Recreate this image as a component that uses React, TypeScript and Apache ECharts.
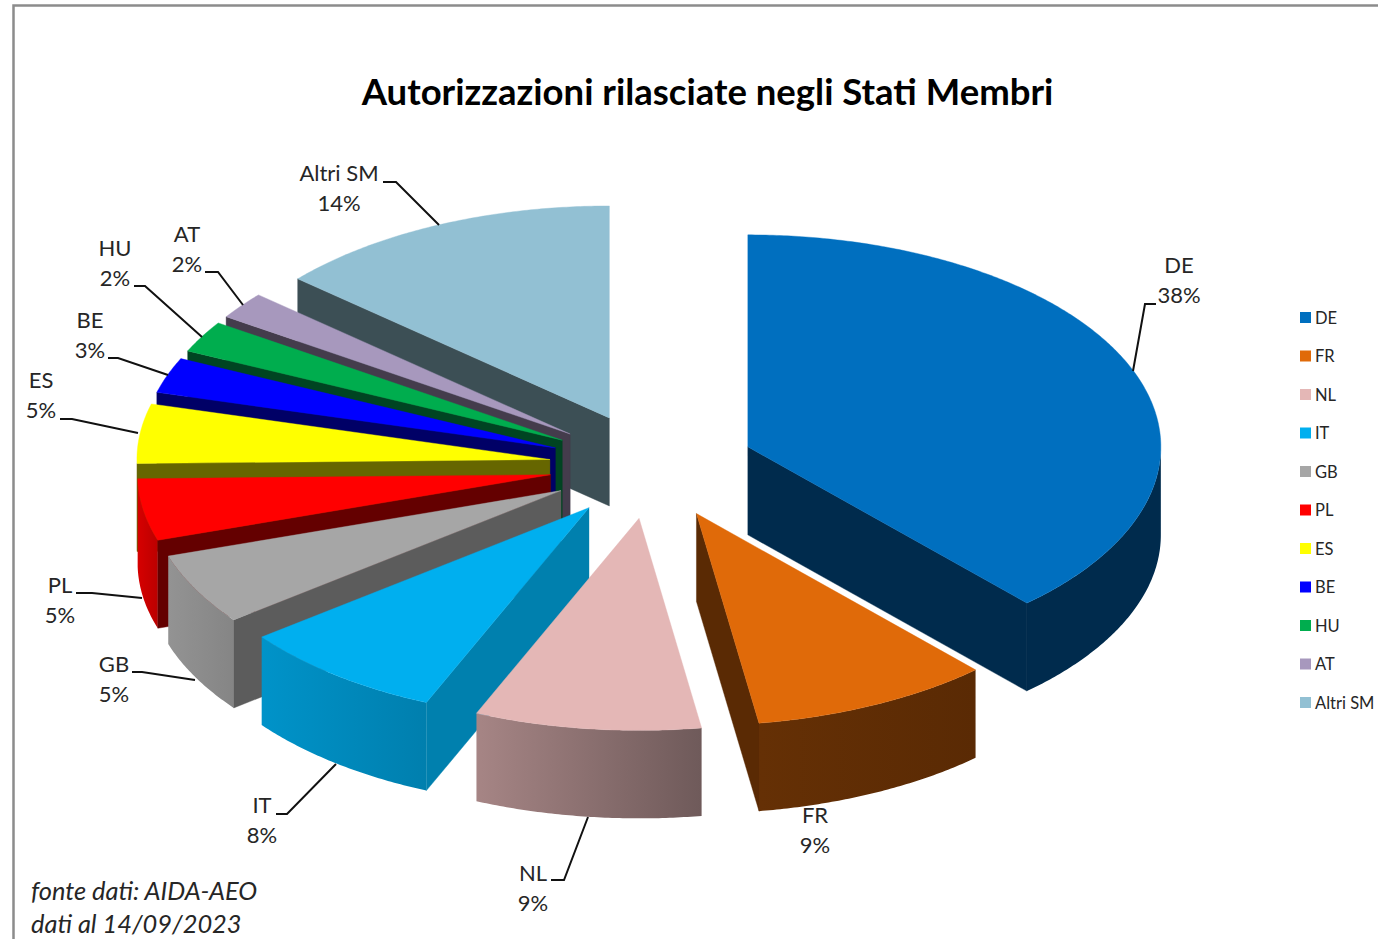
import React, { useEffect, useRef } from "react";
import * as echarts from "echarts";

const categories = ["DE", "FR", "NL", "IT", "GB", "PL", "ES", "BE", "HU", "AT", "Altri SM"];
const shares = [38.19, 9.39, 8.86, 8.12, 5.44, 4.7, 4.52, 2.7, 2.41, 2.06, 13.61];

const topColors = ["#006fbf", "#e06a09", "#e4b7b6", "#00afef", "#a6a6a6", "#ff0000", "#ffff00", "#0000ff", "#00ad4e", "#a798bd", "#92c0d3"];
const wallColors = ["#002b4d", "#5a2a04", "#8a6f6f", "#0080ae", "#5c5c5c", "#640000", "#666600", "#000066", "#004422", "#443c4c", "#3c4f55"];
const rimLeftColors = ["#002b4d", "#653005", "#a68585", "#0093c9", "#939393", "#d60000", "#666600", "#000066", "#004422", "#443c4c", "#3c4f55"];
const rimRightColors = ["#002b4d", "#5a2a04", "#6f5a5a", "#007fae", "#858585", "#bb0000", "#666600", "#000066", "#004422", "#443c4c", "#3c4f55"];

// Pie projection layout.
const CX = 652;
const CY = 466;
const RX = 413;
const RY = 212;
const DEPTH = 88;
const EXPLODE = 0.249;

// Hand-placed label centres and leader lines, in category order.
const labelCentres = [[1179, 264], [815, 814], [533, 872], [262, 804], [114, 663], [60, 584], [41, 379], [90, 319], [115, 247], [187, 233], [339, 172]];
const labelLineGap = 30;
const leaders: number[][][] = [
  [[1156, 304], [1145, 304], [1133, 371]],
  [],
  [[551, 880], [564, 880], [588, 817]],
  [[276, 814], [287, 814], [336, 764]],
  [[132, 672], [142, 672], [195, 680]],
  [[76, 593], [92, 593], [142, 598]],
  [[60, 419], [72, 419], [138, 433]],
  [[108, 358], [118, 358], [168, 375]],
  [[134, 286], [145, 286], [202, 337]],
  [[205, 272], [218, 272], [243, 305]],
  [[383, 182], [396, 182], [439, 225]],
];

const titleText = "Autorizzazioni rilasciate negli Stati Membri";
const noteLines = ["fonte dati: AIDA-AEO", "dati al 14/09/2023"];
const FONT = "Lato, 'Open Sans', sans-serif";
const INK = "#262626";

const total = shares.reduce((a, b) => a + b, 0);
const rad = (deg: number) => (deg * Math.PI) / 180;
const angleSpans = (() => {
  let acc = 0;
  return shares.map((v) => {
    const a0 = (acc / total) * 360;
    acc += v;
    return [a0, (acc / total) * 360];
  });
})();

function arcPoints(ax: number, ay: number, a0: number, a1: number) {
  const steps = Math.max(2, Math.ceil(Math.abs(a1 - a0) * 2));
  const pts: number[][] = [];
  for (let i = 0; i <= steps; i++) {
    const t = rad(a0 + ((a1 - a0) * i) / steps);
    pts.push([ax + RX * Math.sin(t), ay - RY * Math.cos(t)]);
  }
  return pts;
}

function sliceShape(index: number) {
  const [a0, a1] = angleSpans[index];
  const mid = rad((a0 + a1) / 2);
  const ax = CX + EXPLODE * RX * Math.sin(mid);
  const ay = CY - EXPLODE * RY * Math.cos(mid);
  const arc = arcPoints(ax, ay, a0, a1);
  const p0 = arc[0];
  const p1 = arc[arc.length - 1];
  const children: any[] = [];
  const wall = (p: number[]) => ({
    type: "polygon",
    shape: { points: [[ax, ay], p, [p[0], p[1] + DEPTH], [ax, ay + DEPTH]] },
    style: { fill: wallColors[index], stroke: wallColors[index], lineWidth: 0.4 },
  });
  const r0 = Math.max(a0, 90);
  const r1 = Math.min(a1, 270);
  if (r1 > r0) {
    const rimTop = arcPoints(ax, ay, r0, r1);
    const rimBottom = rimTop.map((p) => [p[0], p[1] + DEPTH]).reverse();
    children.push({
      type: "polygon",
      shape: { points: rimTop.concat(rimBottom) },
      style: {
        fill: new echarts.graphic.LinearGradient(0, 0, 1, 0, [
          { offset: 0, color: rimLeftColors[index] },
          { offset: 1, color: rimRightColors[index] },
        ]),
      },
    });
  }
  if (Math.sin(rad(a0)) < -1e-6) children.push(wall(p0));
  if (Math.sin(rad(a1)) > 1e-6) children.push(wall(p1));
  children.push({
    type: "polygon",
    shape: { points: [[ax, ay], ...arc] },
    style: { fill: topColors[index], stroke: topColors[index], lineWidth: 0.4 },
  });
  return { type: "group", children };
}

// Painter's order: slices towards the back of the pie are drawn first.
const backToFront = categories
  .map((_, i) => i)
  .sort((a, b) => {
    const ca = Math.cos(rad((angleSpans[a][0] + angleSpans[a][1]) / 2));
    const cb = Math.cos(rad((angleSpans[b][0] + angleSpans[b][1]) / 2));
    return cb - ca;
  });

function buildOption() {
  const labelTexts: any[] = [];
  categories.forEach((name, i) => {
    const [x, y] = labelCentres[i];
    const pct = `${Math.round((shares[i] / total) * 100)}%`;
    [name, pct].forEach((text, k) => {
      labelTexts.push({
        type: "text",
        x,
        y: y + k * labelLineGap,
        z: 50,
        silent: true,
        style: { text, fill: INK, font: `22px ${FONT}`, textAlign: "center", textVerticalAlign: "middle" },
      });
    });
    if (leaders[i].length) {
      labelTexts.push({
        type: "polyline",
        z: 49,
        silent: true,
        shape: { points: leaders[i] },
        style: { stroke: "#111111", lineWidth: 2, fill: "none" },
      });
    }
  });
  const notes = noteLines.map((text, k) => ({
    type: "text",
    x: 31,
    y: 890 + k * 33,
    silent: true,
    style: { text, fill: INK, font: `italic 25.4px ${FONT}`, textAlign: "left", textVerticalAlign: "middle" },
  }));

  return {
    animation: false,
    backgroundColor: "#ffffff",
    title: {
      text: titleText,
      left: 702.5,
      top: 67,
      textAlign: "center",
      textStyle: { fontFamily: FONT, fontWeight: "bold", fontSize: 36.5, color: "#000000" },
    },
    legend: {
      orient: "vertical",
      left: 1300,
      top: 309,
      icon: "rect",
      itemWidth: 11,
      itemHeight: 11,
      itemGap: 21.5,
      padding: 0,
      selectedMode: false,
      data: categories,
      textStyle: { fontFamily: FONT, fontSize: 16.5, color: INK, padding: [0, 0, 0, -1] },
    },
    graphic: [
      {
        type: "rect",
        silent: true,
        shape: { x: 13.5, y: 5.5, width: 1500, height: 1100 },
        style: { fill: "none", stroke: "#8c8c8c", lineWidth: 2.5 },
      },
      ...notes,
      ...labelTexts,
    ],
    series: categories.map((name, i) => ({
      type: "custom",
      name,
      coordinateSystem: "none",
      silent: true,
      z: 2 + backToFront.indexOf(i),
      itemStyle: { color: topColors[i] },
      data: [[shares[i]]],
      renderItem: () => sliceShape(i),
    })),
  };
}

export default function App() {
  const ref = useRef<HTMLDivElement>(null);
  useEffect(() => {
    document.body.style.margin = "0";
    const chart = echarts.init(ref.current!, undefined, { renderer: "svg" });
    chart.setOption(buildOption() as any);
    return () => chart.dispose();
  }, []);
  return <div ref={ref} style={{ position: "fixed", left: 0, top: 0, width: 1378, height: 939 }} />;
}
